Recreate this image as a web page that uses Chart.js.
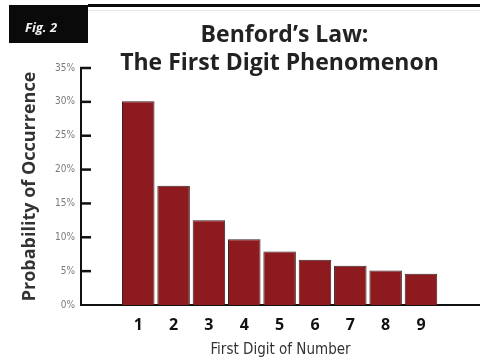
<!DOCTYPE html>
<html>
<head>
<meta charset="utf-8">
<script src="https://cdn.jsdelivr.net/npm/chart.js@4/dist/chart.umd.min.js"></script>
<style>
  html, body { margin: 0; padding: 0; background: #fff; }
  #wrap { width: 480px; height: 359px; position: relative; }
</style>
</head>
<body>
<div id="wrap"><canvas id="c" width="480" height="359"></canvas></div>
<script>
// First significant digit and its probability (%) under Benford's law
const digits = [1, 2, 3, 4, 5, 6, 7, 8, 9];
const probabilities = [30.1, 17.6, 12.5, 9.7, 7.9, 6.7, 5.8, 5.1, 4.6];
const yTickValues = [0, 5, 10, 15, 20, 25, 30, 35];
const titleLines = ['Benford\u2019s Law:', 'The First Digit Phenomenon'];
const figLabel = 'Fig. 2';
const yTitle = 'Probability of Occurrence';
const xTitle = 'First Digit of Number';

const BAR_RED = '#8c1a1e';
const NARROW = '"DejaVu Sans Condensed", "Liberation Sans Narrow", sans-serif';

// Header band: black tab with the figure number, rule along the top, two-line title
const headerPlugin = {
  id: 'header',
  beforeDraw(chart) {
    const ctx = chart.ctx;
    const area = chart.chartArea;
    ctx.save();
    ctx.fillStyle = '#fff';
    ctx.fillRect(0, 0, chart.width, chart.height);
    ctx.fillStyle = '#0a0a0a';
    ctx.fillRect(9, 5, 79, 38);
    ctx.fillRect(88, 4, chart.width - 88, 3);
    ctx.fillStyle = '#e8e8e8';
    ctx.fillRect(88, 10, chart.width - 88, 1);
    ctx.fillStyle = '#f2f2f2';
    ctx.font = 'italic bold 13px "Open Sans", sans-serif';
    ctx.textAlign = 'left';
    ctx.textBaseline = 'alphabetic';
    ctx.fillText(figLabel, 25, 32);
    const cx = (area.left + area.right) / 2;
    ctx.fillStyle = '#222';
    ctx.textAlign = 'center';
    ctx.font = 'bold 23px "Open Sans", sans-serif';
    ctx.fillText(titleLines[0], cx + 4, 42);
    ctx.fillText(titleLines[1], cx - 1, 70);
    ctx.restore();
  },
  afterDatasetsDraw(chart) {
    // short ticks pointing into the plot from the value axis
    const ctx = chart.ctx;
    const yScale = chart.scales.y;
    const left = chart.chartArea.left;
    ctx.save();
    ctx.strokeStyle = '#111';
    ctx.lineWidth = 2.5;
    yTickValues.forEach(v => {
      if (v === 0) return;
      const py = yScale.getPixelForValue(v);
      ctx.beginPath();
      ctx.moveTo(left - 1, py);
      ctx.lineTo(left + 10, py);
      ctx.stroke();
    });
    ctx.restore();
  }
};

new Chart(document.getElementById('c'), {
  type: 'bar',
  data: {
    datasets: [{
      data: digits.map((d, i) => ({ x: d, y: probabilities[i] })),
      backgroundColor: BAR_RED,
      borderColor: '#3b2222',
      borderWidth: 1,
      barPercentage: 0.92,
      categoryPercentage: 1
    }]
  },
  options: {
    responsive: false,
    animation: false,
    devicePixelRatio: 1,
    layout: { padding: { top: 68, left: 0, right: 0, bottom: 0 } },
    plugins: {
      legend: { display: false },
      tooltip: { enabled: false },
      title: { display: false }
    },
    scales: {
      x: {
        type: 'linear',
        min: -0.62,
        max: 10.67,
        offset: false,
        afterBuildTicks(scale) {
          scale.ticks = digits.map(v => ({ value: v }));
        },
        afterFit(scale) { scale.height = 54; },
        grid: { display: false, drawTicks: false },
        border: { display: true, color: '#111', width: 2 },
        ticks: {
          color: '#111',
          padding: 11,
          font: { family: '"Open Sans", sans-serif', weight: 'bold', size: 16 },
          callback: v => String(v)
        },
        title: {
          display: true,
          text: xTitle,
          color: '#333',
          padding: { top: 2, bottom: 0 },
          font: { family: NARROW, size: 15 }
        }
      },
      y: {
        min: 0,
        max: 35,
        afterBuildTicks(scale) {
          scale.ticks = yTickValues.map(v => ({ value: v }));
        },
        afterFit(scale) { scale.width = 81; },
        grid: { display: false, drawTicks: false },
        border: { display: true, color: '#111', width: 2 },
        ticks: {
          color: '#7a7a7a',
          padding: 6,
          font: { family: NARROW, size: 10 },
          callback: v => v + '%'
        },
        title: {
          display: true,
          text: yTitle,
          color: '#333',
          padding: { top: 19, bottom: 0 },
          font: { family: '"Open Sans", sans-serif', weight: 'bold', size: 18 }
        }
      }
    }
  },
  plugins: [headerPlugin]
});
</script>
</body>
</html>
